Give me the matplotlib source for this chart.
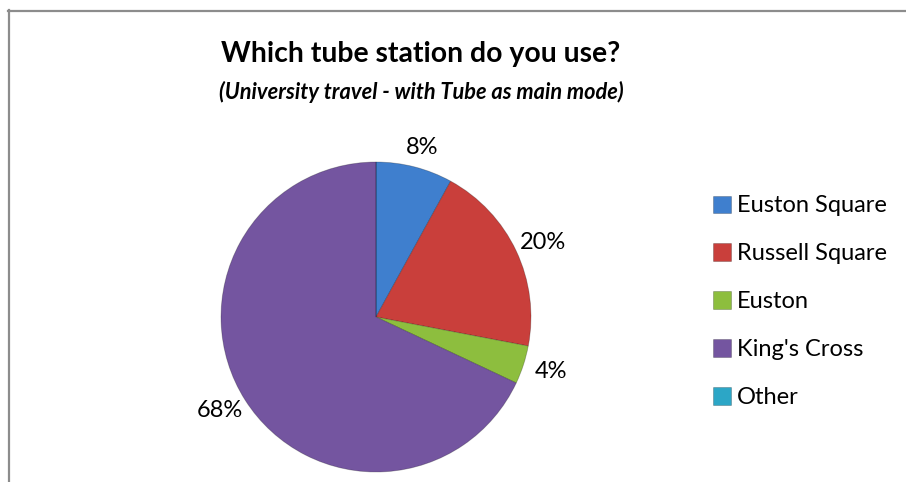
import numpy as np
import matplotlib
matplotlib.use("Agg")
import matplotlib.pyplot as plt
from matplotlib.lines import Line2D

stations = ["Euston Square", "Russell Square", "Euston", "King's Cross", "Other"]
shares = [8, 20, 4, 68, 0]
colors = ["#3F7FCE", "#C93F3B", "#8DBE3E", "#7455A0", "#2CA6C6"]

plt.rcParams['font.family'] = ['Lato', 'DejaVu Sans']

W, H = 906, 482
fig = plt.figure(figsize=(W / 100, H / 100), dpi=100)

# border (chart area frame, partially cropped)
fig.add_artist(Line2D([8.5 / W, 8.5 / W], [0, 1 - 10 / H], transform=fig.transFigure,
                      color="#8c8c8c", lw=1.6))
fig.add_artist(Line2D([8 / W, 1], [1 - 10.5 / H, 1 - 10.5 / H], transform=fig.transFigure,
                      color="#8c8c8c", lw=1.6))

cx, cy, r = 376, 317, 155
ax = fig.add_axes([(cx - r) / W, (H - cy - r) / H, 2 * r / W, 2 * r / H])
wedges, _ = ax.pie(shares, colors=colors, startangle=90, counterclock=False,
                   radius=1.0, wedgeprops=dict(edgecolor=(0, 0, 0, 0.25), linewidth=0.6))
ax.set_xlim(-1, 1)
ax.set_ylim(-1, 1)
ax.set_aspect('equal')
ax.axis('off')

# percentage labels outside each non-zero wedge
total = sum(shares)
for w, v in zip(wedges, shares):
    if v == 0:
        continue
    theta = np.deg2rad((w.theta1 + w.theta2) / 2)
    c, s = np.cos(theta), np.sin(theta)
    ax.text(1.19 * c, 1.13 * s, f"{round(100 * v / total)}%",
            ha='center', va='center', fontsize=17, color='black', clip_on=False)

fig.text(421 / W, 1 - 62 / H, "Which tube station do you use?", ha='center', va='baseline',
         fontsize=20.4, fontweight='bold')
fig.text(421 / W, 1 - 99 / H, "(University travel - with Tube as main mode)", ha='center',
         va='baseline', fontsize=15.7, fontweight='bold', style='italic')

fig.legend(wedges, stations, loc='upper left', bbox_to_anchor=(704 / W, 1 - 186 / H),
           frameon=False, fontsize=17, handlelength=0.75, handleheight=0.75,
           handletextpad=0.25, labelspacing=1.14, borderaxespad=0)

fig.savefig("out.png", dpi=100)
